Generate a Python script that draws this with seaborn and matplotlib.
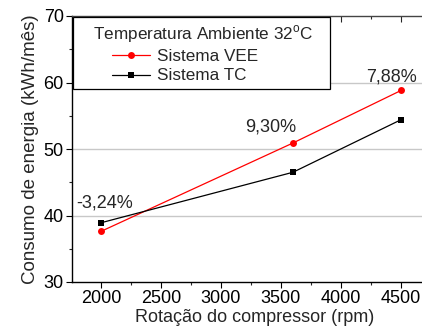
import pandas as pd
import seaborn as sns
import matplotlib.pyplot as plt
from matplotlib.lines import Line2D

rpm = [2000, 3600, 4500]
vee = [37.6, 50.9, 58.8]
tc = [38.9, 46.5, 54.4]
pct_labels = ['-3,24%', '9,30%', '7,88%']

df = pd.DataFrame({
    'rpm': rpm * 2,
    'consumo': vee + tc,
    'sistema': ['Sistema VEE'] * 3 + ['Sistema TC'] * 3,
})

sns.set_style('white')
plt.rcParams['font.family'] = ['Liberation Sans', 'DejaVu Sans']
plt.rcParams['mathtext.fontset'] = 'custom'
plt.rcParams['mathtext.rm'] = 'Liberation Sans'

fig = plt.figure(figsize=(4.22, 3.35), dpi=100)
ax = fig.add_axes([72 / 422, 53 / 335, 365 / 422, 266 / 335])

sns.lineplot(
    data=df,
    x='rpm',
    y='consumo',
    hue='sistema',
    style='sistema',
    palette={'Sistema VEE': '#ff0000', 'Sistema TC': '#000000'},
    markers={'Sistema VEE': 'o', 'Sistema TC': 's'},
    dashes=False,
    markersize=5,
    markeredgewidth=0,
    linewidth=0.9,
    legend=False,
    ax=ax,
)

ax.set_xlim(1760, 4800)
ax.set_ylim(30, 70)
ax.set_xticks([2000, 2500, 3000, 3500, 4000, 4500])
ax.set_xticks([2250, 2750, 3250, 3750, 4250, 4750], minor=True)
ax.set_yticks([30, 40, 50, 60, 70])
ax.set_yticks([35, 45, 55, 65], minor=True)

for g in [40, 50, 60]:
    ax.axhline(g, color='#c8c8c8', linewidth=1, zorder=0)

for s in ['left', 'bottom', 'top']:
    ax.spines[s].set_color('black')
    ax.spines[s].set_linewidth(1)
ax.spines['right'].set_visible(False)
ax.spines['top'].set_color('#444444')

ax.tick_params(axis='both', which='major', direction='out', length=4, width=0.8,
               labelsize=13, colors='black', left=True, bottom=True, pad=2)
ax.tick_params(axis='both', which='minor', direction='out', length=2.5, width=0.8,
               left=True, bottom=True)

# top axis: ticks pointing inward, no labels
top = ax.secondary_xaxis('top')
top.set_xticks([2000, 2500, 3000, 3500, 4000, 4500])
top.set_xticks([2250, 2750, 3250, 3750, 4250, 4750], minor=True)
top.tick_params(which='major', direction='in', length=4, width=0.8, labeltop=False, top=True)
top.tick_params(which='minor', direction='in', length=2.5, width=0.8, top=True)
top.spines['top'].set_visible(False)

ax.set_xlabel('Rotação do compressor (rpm)', fontsize=13, labelpad=1)
ax.set_ylabel('Consumo de energia (kWh/mês)', fontsize=13.5, labelpad=3)

offsets = [(3, 20.5), (-16, 11.5), (-6.5, 10)]
for x, y, lab, off in zip(rpm, vee, pct_labels, offsets):
    ax.annotate(lab, (x, y), xytext=off, textcoords='offset points',
                ha='center', va='center', fontsize=13)

handles = [
    Line2D([], [], color='#ff0000', marker='o', markersize=5, markeredgewidth=0, linewidth=0.9),
    Line2D([], [], color='black', marker='s', markersize=5, markeredgewidth=0, linewidth=0.9),
]
leg = ax.legend(handles, ['Sistema VEE' + ' ' * 7, 'Sistema TC'],
                title='   Temperatura Ambiente 32$^\\mathrm{o}$C   ',
                loc='upper left', bbox_to_anchor=(0.0, 1.0),
                fontsize=12.3, title_fontsize=12.3,
                fancybox=False, edgecolor='black', framealpha=1,
                handlelength=2.2, handletextpad=0.4, labelspacing=0.25,
                borderpad=0.35, borderaxespad=0.08, numpoints=1)
leg.get_frame().set_linewidth(0.9)
leg._legend_box.align = 'center'
leg._legend_box.sep = 3
leg.get_title().set_ha('center')

plt.savefig('out.png', dpi=100)
